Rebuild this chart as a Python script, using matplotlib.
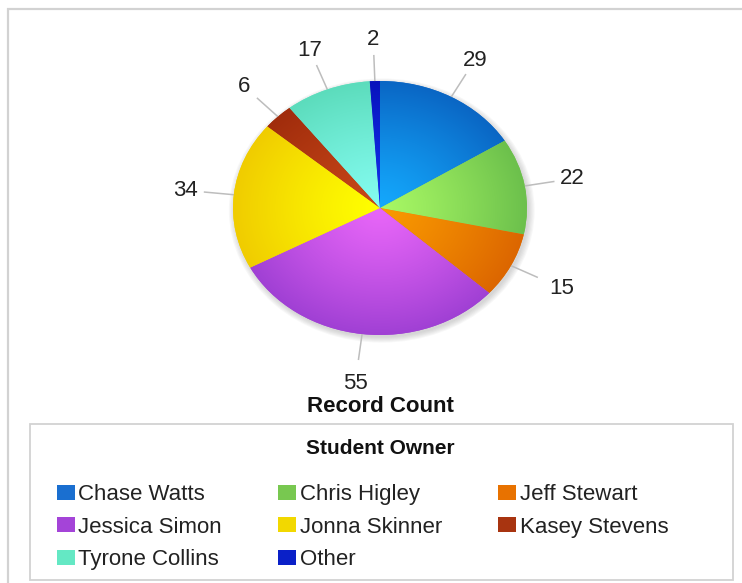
import numpy as np
import matplotlib
matplotlib.use("Agg")
import matplotlib.pyplot as plt
from matplotlib.patches import Patch, Rectangle, Circle
from matplotlib.colors import to_rgb

plt.rcParams["font.family"] = ["Liberation Sans", "DejaVu Sans"]

# ── data ──────────────────────────────────────────────────────────────────────
owners = ["Chase Watts", "Chris Higley", "Jeff Stewart", "Jessica Simon",
          "Jonna Skinner", "Kasey Stevens", "Tyrone Collins", "Other"]
counts = [29, 22, 15, 55, 34, 6, 17, 2]
base_colors = ["#1a6fd0", "#78c850", "#e87200", "#a444d8",
               "#f2d800", "#a83410", "#64e8c4", "#0a20c8"]
light_colors = ["#14a8fc", "#a8f864", "#fa9a00", "#e866f8",
                "#ffff00", "#c84818", "#84fcf0", "#1232ec"]
dark_colors = ["#0a66c4", "#6cc04c", "#dc6600", "#a040d4",
               "#f0cc00", "#a02c0c", "#5cdcbc", "#0812bc"]

W, H = 742, 583
fig = plt.figure(figsize=(W / 100, H / 100), dpi=100)

# background axes in pixel coordinates
bg = fig.add_axes([0, 0, 1, 1])
bg.set_xlim(0, W)
bg.set_ylim(H, 0)
bg.axis("off")

frame_col = "#d2d2d2"
bg.plot([7, W], [8.5, 8.5], color=frame_col, lw=1.6, solid_capstyle="butt")
bg.plot([7.5, 7.5], [8, H], color=frame_col, lw=1.6, solid_capstyle="butt")
bg.add_patch(Rectangle((30, 424), 703, 156, fill=False, ec=frame_col, lw=1.3))

bg.text(380, 406, "Record Count", ha="center", va="center",
        fontsize=16, fontweight="bold", color="#111111")
bg.text(380, 448, "Student Owner", ha="center", va="center",
        fontsize=15, fontweight="bold", color="#111111")

# ── pie ───────────────────────────────────────────────────────────────────────
cx, cy, rx, ry = 380, 208, 147, 127
lim = 1.5
ax = fig.add_axes([(cx - lim * rx) / W, (H - cy - lim * ry) / H,
                   2 * lim * rx / W, 2 * lim * ry / H])
ax.patch.set_alpha(0)

# soft shadow
for k in range(6):
    ax.add_patch(Circle((0.012, -0.02), 1.0 + 0.008 * k, color="#808080",
                        alpha=0.06, lw=0, zorder=0))

wedges, _ = ax.pie(counts, colors=base_colors, startangle=90,
                   counterclock=False, wedgeprops=dict(lw=0))
ax.set_aspect("auto")

n = 400
g = np.linspace(-1, 1, n)
gx, gy = np.meshgrid(g, g)
rr = np.clip(np.hypot(gx, gy), 0, 1)[..., None]
for w, lc, dc in zip(wedges, light_colors, dark_colors):
    lc, dc = np.array(to_rgb(lc)), np.array(to_rgb(dc))
    img = lc * (1 - rr ** 1.2) + dc * rr ** 1.2
    im = ax.imshow(img, extent=(-1, 1, -1, 1), origin="lower",
                   aspect="auto", interpolation="bilinear", zorder=2)
    im.set_clip_path(w)

for w, v in zip(wedges, counts):
    a = np.deg2rad((w.theta1 + w.theta2) / 2)
    ux, uy = np.cos(a), np.sin(a)
    ax.plot([ux * 1.0, ux * 1.2], [uy * 1.0, uy * 1.2],
            color="#bdbdbd", lw=1.1, zorder=1)
    r_lab = 1.33 if uy > 0 else 1.39
    ax.text(ux * r_lab, uy * r_lab, str(v), ha="center", va="center",
            fontsize=16, color="#222222")

ax.set_xlim(-lim, lim)
ax.set_ylim(-lim, lim)
ax.axis("off")

# ── legend (row-wise order) ───────────────────────────────────────────────────
handles = [Patch(facecolor=c, edgecolor="none") for c in base_colors]
order = [0, 3, 6, 1, 4, 7, 2, 5]
fig.legend([handles[i] for i in order], [owners[i] for i in order],
           ncol=3, loc="upper left",
           bbox_to_anchor=(57 / W, (H - 484) / H),
           frameon=False, fontsize=16, borderpad=0, borderaxespad=0,
           handlelength=0.8, handleheight=0.65, handletextpad=0.15,
           labelspacing=0.52, columnspacing=2.55, labelcolor="#222222")

plt.savefig("out.png", dpi=100)
